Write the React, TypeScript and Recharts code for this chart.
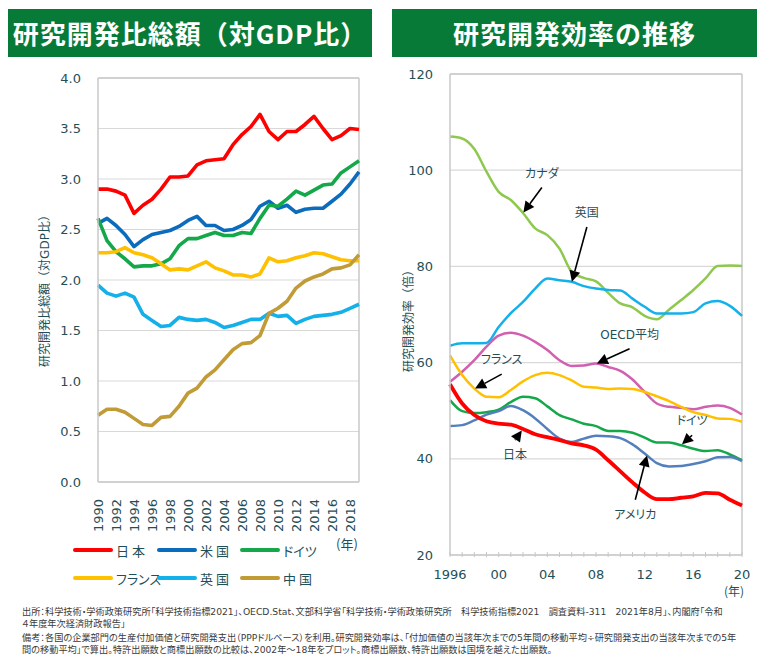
import React from 'react';
import { LineChart, Line, XAxis, YAxis, CartesianGrid, ReferenceLine } from 'recharts';

// left panel: R&D spending as share of GDP (%)
const gdpYears = [
  '1990', '1991', '1992', '1993', '1994', '1995', '1996', '1997', '1998', '1999',
  '2000', '2001', '2002', '2003', '2004', '2005', '2006', '2007', '2008', '2009',
  '2010', '2011', '2012', '2013', '2014', '2015', '2016', '2017', '2018', '2019',
];
const japanGdp = [2.90, 2.90, 2.88, 2.84, 2.66, 2.74, 2.80, 2.90, 3.02, 3.02, 3.03, 3.14, 3.18, 3.19, 3.20, 3.34, 3.44, 3.52, 3.64, 3.47, 3.39, 3.47, 3.47, 3.54, 3.62, 3.50, 3.39, 3.43, 3.50, 3.49];
const usGdp = [2.56, 2.61, 2.54, 2.45, 2.33, 2.40, 2.45, 2.47, 2.49, 2.53, 2.59, 2.63, 2.54, 2.54, 2.49, 2.50, 2.54, 2.60, 2.73, 2.78, 2.71, 2.74, 2.67, 2.70, 2.71, 2.71, 2.78, 2.85, 2.95, 3.07];
const germanyGdp = [2.61, 2.39, 2.28, 2.21, 2.13, 2.14, 2.14, 2.16, 2.21, 2.34, 2.41, 2.41, 2.44, 2.47, 2.44, 2.44, 2.47, 2.46, 2.61, 2.74, 2.73, 2.80, 2.88, 2.84, 2.89, 2.94, 2.95, 3.06, 3.12, 3.18];
const franceGdp = [2.27, 2.27, 2.28, 2.32, 2.27, 2.25, 2.22, 2.16, 2.10, 2.11, 2.10, 2.14, 2.18, 2.12, 2.09, 2.05, 2.05, 2.03, 2.06, 2.22, 2.18, 2.19, 2.22, 2.24, 2.27, 2.26, 2.23, 2.20, 2.19, 2.19];
const ukGdp = [1.95, 1.87, 1.84, 1.87, 1.83, 1.66, 1.60, 1.54, 1.55, 1.63, 1.61, 1.60, 1.61, 1.58, 1.53, 1.55, 1.58, 1.61, 1.61, 1.67, 1.64, 1.65, 1.57, 1.61, 1.64, 1.65, 1.66, 1.68, 1.72, 1.76];
const chinaGdp = [0.66, 0.72, 0.72, 0.69, 0.63, 0.57, 0.56, 0.64, 0.65, 0.75, 0.88, 0.93, 1.04, 1.11, 1.21, 1.31, 1.37, 1.38, 1.45, 1.67, 1.72, 1.79, 1.92, 1.99, 2.03, 2.06, 2.11, 2.12, 2.15, 2.25];
const gdpTicks = [0, 0.5, 1, 1.5, 2, 2.5, 3, 3.5, 4];

// right panel: R&D efficiency (times)
const effYears = [1996, 1997, 1998, 1999, 2000, 2001, 2002, 2003, 2004, 2005, 2006, 2007, 2008, 2009, 2010, 2011, 2012, 2013, 2014, 2015, 2016, 2017, 2018, 2019, 2020];
const canadaEff = [107.0, 106.6, 104.4, 99.7, 95.5, 93.8, 91.1, 87.9, 86.5, 83.7, 78.9, 77.6, 76.9, 74.5, 72.3, 71.5, 69.7, 69.0, 71.0, 73.0, 75.1, 77.5, 80.1, 80.2, 80.1];
const ukEff = [63.5, 64.0, 64.0, 64.1, 67.4, 70.3, 72.6, 75.4, 77.5, 77.1, 76.8, 75.9, 75.4, 75.1, 75.0, 73.3, 71.6, 70.2, 70.2, 70.2, 70.5, 72.3, 72.8, 71.8, 69.7];
const oecdEff = [56.0, 58.1, 60.5, 63.3, 65.6, 66.2, 65.6, 64.3, 62.6, 60.5, 59.3, 59.4, 59.8, 59.1, 58.3, 56.5, 53.9, 51.5, 50.8, 50.6, 50.3, 50.8, 51.1, 50.6, 49.2];
const franceEff = [61.5, 57.4, 54.6, 52.9, 52.8, 54.3, 56.1, 57.4, 57.9, 57.4, 56.3, 55.0, 54.8, 54.5, 54.6, 54.5, 53.9, 53.0, 52.0, 50.8, 49.7, 49.1, 48.4, 48.3, 47.7];
const germanyEff = [52.2, 49.9, 49.5, 49.7, 50.2, 51.8, 52.9, 52.6, 50.9, 49.1, 48.2, 47.3, 46.8, 45.8, 45.8, 45.4, 44.4, 43.4, 43.4, 42.8, 42.1, 41.6, 41.8, 40.9, 39.7];
const usaEff = [46.8, 47.0, 48.0, 49.2, 49.9, 51.0, 50.1, 48.4, 46.2, 44.2, 43.5, 44.2, 44.8, 44.7, 44.3, 43.0, 41.1, 39.1, 38.4, 38.5, 38.9, 39.5, 40.3, 40.4, 39.5];
const japanEff = [55.5, 51.5, 49.1, 47.8, 47.3, 47.1, 46.2, 45.1, 44.5, 43.9, 43.2, 42.8, 41.9, 39.7, 37.4, 35.1, 33.0, 31.6, 31.6, 31.9, 32.2, 32.9, 32.8, 31.5, 30.3];
const effTicks = [20, 40, 60, 80, 100, 120];

const gdpSeries = [
  { key: 'japan', name: '日 本', color: '#ff0000' },
  { key: 'us', name: '米 国', color: '#0b6bbd' },
  { key: 'germany', name: 'ドイツ', color: '#14a84a' },
  { key: 'france', name: 'フランス', color: '#ffc000' },
  { key: 'uk', name: '英 国', color: '#14b0ea' },
  { key: 'china', name: '中 国', color: '#c19b35' },
];

const effSeries = [
  { key: 'canada', color: '#8fc84f', width: 2.5 },
  { key: 'uk', color: '#14b0ea', width: 2.5 },
  { key: 'oecd', color: '#d160b0', width: 2.5 },
  { key: 'france', color: '#ffc000', width: 2.5 },
  { key: 'germany', color: '#14a84a', width: 2.5 },
  { key: 'usa', color: '#5380bd', width: 2.5 },
  { key: 'japan', color: '#ff0000', width: 3.8 },
];

// arrow callouts on the right panel, in data units (year, value)
const callouts = [
  { label: 'カナダ', from: [2003.55, 96.4], to: [2002.03, 91.2], below: false },
  { label: '英国', from: [2007.25, 88.2], to: [2006.02, 76.8], below: false },
  { label: 'OECD平均', from: [2010.76, 62.9], to: [2008.07, 59.8], below: false },
  { label: 'フランス', from: [2000.25, 57.6], to: [1998.06, 54.6], below: false },
  { label: '日本', from: [2001.35, 43.9], to: [2001.9, 45.9], below: true },
  { label: 'ドイツ', from: [2015.9, 44.9], to: [2015.07, 43.0], below: false },
  { label: 'アメリカ', from: [2011.23, 31.5], to: [2012.19, 40.7], below: true },
];

const gdpData = gdpYears.map((year, i) => ({
  year,
  japan: japanGdp[i],
  us: usGdp[i],
  germany: germanyGdp[i],
  france: franceGdp[i],
  uk: ukGdp[i],
  china: chinaGdp[i],
}));

const effData = effYears.map((year, i) => ({
  year,
  canada: canadaEff[i],
  uk: ukEff[i],
  oecd: oecdEff[i],
  france: franceEff[i],
  germany: germanyEff[i],
  usa: usaEff[i],
  japan: japanEff[i],
}));

const FONT = "'DejaVu Sans', 'Noto Sans CJK JP', sans-serif";
const JP = "'Noto Sans CJK JP', sans-serif";
const AXIS_TEXT = '#1f4f57';
const FRAME = '#c8c8c8';
const GRID = '#d9d9d9';

const RotatedYearTick = (props: any) => {
  const { x, y, payload } = props;
  const ty = y + 15;
  return (
    <text
      x={x}
      y={ty}
      transform={`rotate(-90, ${x}, ${ty})`}
      textAnchor="end"
      dominantBaseline="central"
      fill={AXIS_TEXT}
      fontSize={13}
      fontFamily={FONT}
    >
      {payload.value}
    </text>
  );
};

const EffYearTick = (props: any) => {
  const { x, y, payload } = props;
  const year = payload.value as number;
  const showLabel = (year - 1996) % 4 === 0;
  const text = year === 1996 ? '1996' : String(year).slice(2);
  return (
    <g>
      <line x1={x} y1={y} x2={x} y2={y - 5} stroke={FRAME} strokeWidth={1} />
      {showLabel && (
        <text x={x} y={y + 22} textAnchor="middle" fill={AXIS_TEXT} fontSize={13} fontFamily={FONT}>
          {text}
        </text>
      )}
    </g>
  );
};

const calloutShape = (label: string, below: boolean) => (props: any) => {
  const { x1, y1, x2, y2 } = props;
  const ang = Math.atan2(y2 - y1, x2 - x1);
  const len = 11;
  const half = 5.5;
  const bx = x2 - len * Math.cos(ang);
  const by = y2 - len * Math.sin(ang);
  const px = -Math.sin(ang) * half;
  const py = Math.cos(ang) * half;
  return (
    <g>
      <line x1={x1} y1={y1} x2={bx} y2={by} stroke="#000" strokeWidth={1.6} />
      <polygon points={`${x2},${y2} ${bx + px},${by + py} ${bx - px},${by - py}`} fill="#000" />
      <text
        x={x1}
        y={below ? y1 + 15 : y1 - 14}
        textAnchor="middle"
        dominantBaseline="central"
        fill={AXIS_TEXT}
        fontSize={12}
        fontFamily={FONT}
        style={{ fontFeatureSettings: '"palt"' }}
      >
        {label}
      </text>
    </g>
  );
};

const Header = ({ left, width, text }: { left: number; width: number; text: string }) => (
  <div
    style={{
      position: 'absolute',
      left,
      top: 9,
      width,
      height: 48,
      background: '#087a38',
      color: '#fff',
      fontFamily: JP,
      fontWeight: 700,
      fontSize: 26,
      letterSpacing: 1,
      lineHeight: '48px',
      textAlign: 'center',
      whiteSpace: 'nowrap',
    }}
  >
    {text}
  </div>
);

const footerLines = [
  { top: 607, text: '出所：科学技術・学術政策研究所「科学技術指標2021」、OECD.Stat、文部科学省「科学技術・学術政策研究所　科学技術指標2021　調査資料-311　2021年8月」、内閣府「令和' },
  { top: 619, text: '４年度年次経済財政報告」' },
  { top: 633, text: '備考：各国の企業部門の生産付加価値と研究開発支出（PPPドルベース）を利用。研究開発効率は、「付加価値の当該年次までの5年間の移動平均÷研究開発支出の当該年次までの5年' },
  { top: 645, text: '間の移動平均」で算出。特許出願数と商標出願数の比較は、2002年～18年をプロット。商標出願数、特許出願数は国境を越えた出願数。' },
];

const legendRows = [gdpSeries.slice(0, 3), gdpSeries.slice(3, 6)];
const legendX = [73, 157, 240];
const legendY = [550, 578];

export default function App() {
  return (
    <div style={{ position: 'absolute', left: 0, top: 0, width: 757, height: 668, background: '#fff', overflow: 'hidden' }}>
      <Header left={8} width={364} text="研究開発比総額（対GDP比）" />
      <Header left={392} width={365} text="研究開発効率の推移" />

      <div style={{ position: 'absolute', left: 0, top: 0 }}>
        <LineChart width={380} height={600} data={gdpData} margin={{ top: 78, right: 21, bottom: 58, left: 0 }}>
          <CartesianGrid vertical={false} stroke={GRID} strokeWidth={1.2} />
          <XAxis
            dataKey="year"
            interval={1}
            height={60}
            tickLine={false}
            tickSize={0}
            axisLine={{ stroke: FRAME, strokeWidth: 1.5 }}
            tick={<RotatedYearTick />}
          />
          <YAxis
            domain={[0, 4]}
            ticks={gdpTicks}
            width={98}
            tickLine={false}
            tickSize={0}
            tickMargin={17}
            axisLine={{ stroke: FRAME, strokeWidth: 1.5 }}
            tickFormatter={(v: number) => v.toFixed(1)}
            tick={{ fill: AXIS_TEXT, fontSize: 13, fontFamily: FONT }}
          />
          <ReferenceLine x="2019" stroke={FRAME} strokeWidth={1.5} />
          <ReferenceLine y={4} stroke={FRAME} strokeWidth={1.5} />
          {gdpSeries.map((s) => (
            <Line
              key={s.key}
              type="linear"
              dataKey={s.key}
              stroke={s.color}
              strokeWidth={3.6}
              strokeLinejoin="round"
              dot={false}
              isAnimationActive={false}
            />
          ))}
        </LineChart>
      </div>

      <div style={{ position: 'absolute', left: 380, top: 0 }}>
        <LineChart width={377} height={600} data={effData} margin={{ top: 74, right: 15, bottom: 0, left: 0 }}>
          <CartesianGrid vertical={false} stroke={GRID} strokeWidth={1.2} />
          <XAxis
            dataKey="year"
            type="number"
            domain={[1996, 2020]}
            ticks={effYears}
            interval={0}
            height={45}
            tickLine={false}
            tickSize={0}
            axisLine={{ stroke: FRAME, strokeWidth: 1.5 }}
            tick={<EffYearTick />}
          />
          <YAxis
            domain={[20, 120]}
            ticks={effTicks}
            width={70}
            tickLine={false}
            tickSize={0}
            tickMargin={17}
            axisLine={{ stroke: FRAME, strokeWidth: 1.5 }}
            tick={{ fill: AXIS_TEXT, fontSize: 13, fontFamily: FONT }}
          />
          <ReferenceLine x={2020} stroke={FRAME} strokeWidth={1.5} />
          <ReferenceLine y={120} stroke={FRAME} strokeWidth={1.5} />
          {effSeries.map((s) => (
            <Line
              key={s.key}
              type="monotone"
              dataKey={s.key}
              stroke={s.color}
              strokeWidth={s.width}
              dot={false}
              isAnimationActive={false}
            />
          ))}
          {callouts.map((c) => (
            <ReferenceLine
              key={c.label}
              segment={[
                { x: c.from[0], y: c.from[1] },
                { x: c.to[0], y: c.to[1] },
              ]}
              shape={calloutShape(c.label, c.below)}
            />
          ))}
        </LineChart>
      </div>

      {/* axis titles */}
      <div
        style={{
          position: 'absolute', left: 43, top: 288, transform: 'translate(-50%, -50%) rotate(-90deg)',
          whiteSpace: 'nowrap', fontFamily: FONT, fontSize: 12, color: AXIS_TEXT,
        }}
      >
        研究開発比総額（対GDP比）
      </div>
      <div
        style={{
          position: 'absolute', left: 407, top: 318, transform: 'translate(-50%, -50%) rotate(-90deg)',
          whiteSpace: 'nowrap', fontFamily: FONT, fontSize: 12, color: AXIS_TEXT,
        }}
      >
        研究開発効率（倍）
      </div>

      <div style={{ position: 'absolute', left: 336, top: 537, fontFamily: JP, fontSize: 13, lineHeight: '14px', color: AXIS_TEXT, fontFeatureSettings: '"palt"' }}>
        (年)
      </div>
      <div style={{ position: 'absolute', left: 724, top: 585, fontFamily: JP, fontSize: 12, lineHeight: '12px', color: AXIS_TEXT, fontFeatureSettings: '"palt"' }}>
        (年)
      </div>

      {/* legend for the left panel */}
      {legendRows.map((row, r) =>
        row.map((s, i) => (
          <div
            key={s.key}
            style={{ position: 'absolute', left: legendX[i], top: legendY[r] - 9, height: 18, display: 'flex', alignItems: 'center' }}
          >
            <div style={{ width: 40, height: 4.5, borderRadius: 3, background: s.color }} />
            <span
              style={{
                marginLeft: 3, fontFamily: JP, fontSize: 13, color: AXIS_TEXT, whiteSpace: 'pre',
                fontFeatureSettings: '"palt"',
              }}
            >
              {s.name}
            </span>
          </div>
        ))
      )}

      {footerLines.map((l) => (
        <div
          key={l.top}
          style={{
            position: 'absolute', left: 22, top: l.top, fontFamily: FONT, fontSize: 9.2, lineHeight: '10px',
            color: '#3a3a3a', whiteSpace: 'nowrap', fontFeatureSettings: '"palt"',
          }}
        >
          {l.text}
        </div>
      ))}
    </div>
  );
}
